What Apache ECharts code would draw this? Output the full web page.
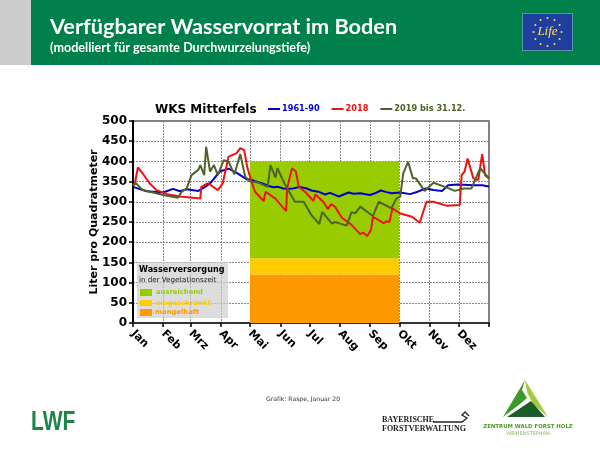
<!DOCTYPE html>
<html>
<head>
<meta charset="utf-8">
<style>html,body{margin:0;padding:0;background:#fff}#report-chart{width:600px;height:450px}</style>
<script src="https://cdn.jsdelivr.net/npm/echarts@6/dist/echarts.min.js"></script>
</head>
<body>
<div id="report-chart"></div>
<script>
var monthNames = ['Jan', 'Feb', 'Mrz', 'Apr', 'Mai', 'Jun', 'Jul', 'Aug', 'Sep', 'Okt', 'Nov', 'Dez'];
var monthStarts = [0, 31, 59, 90, 120, 151, 181, 212, 243, 273, 304, 334, 365];
var yTicks = [0, 50, 100, 150, 200, 250, 300, 350, 400, 450, 500];

var normalDays = [0, 14, 31, 41, 48, 55, 67, 74, 80, 89, 98, 106, 117, 120, 125, 132, 139, 144, 149, 154, 159, 164, 171, 178, 183, 190, 197, 202, 207, 211, 216, 221, 226, 233, 243, 248, 254, 260, 265, 274, 284, 292, 300, 308, 317, 323, 333, 349, 358, 365];
var normalValues = [337, 326, 323, 332, 326, 331, 327, 337, 348, 375, 382, 372, 355, 356, 351, 346, 339, 336, 337, 333, 332, 333, 337, 333, 328, 325, 318, 322, 317, 313, 318, 323, 320, 321, 317, 321, 328, 324, 321, 323, 319, 325, 333, 329, 327, 341, 343, 341, 341, 338];

var days2018 = [0, 2, 5, 10, 17, 24, 35, 48, 69, 70, 77, 87, 92, 98, 106, 110, 114, 117, 121, 125, 134, 136, 146, 157, 158, 163, 167, 170, 178, 185, 187, 195, 200, 203, 207, 214, 224, 233, 236, 240, 244, 246, 253, 257, 260, 263, 266, 274, 286, 294, 297, 301, 308, 322, 335, 337, 340, 343, 349, 354, 358, 361, 365];
var values2018 = [340, 346, 385, 370, 346, 329, 319, 313, 308, 337, 346, 329, 346, 412, 420, 433, 428, 387, 354, 325, 302, 325, 308, 277, 333, 383, 375, 337, 321, 302, 318, 300, 282, 294, 288, 261, 243, 220, 224, 215, 230, 263, 253, 247, 252, 250, 284, 271, 263, 248, 271, 300, 300, 290, 292, 366, 375, 407, 358, 354, 418, 366, 358];

var days2019 = [0, 3, 10, 31, 46, 50, 55, 60, 67, 69, 73, 75, 79, 83, 87, 93, 98, 104, 110, 115, 120, 128, 138, 141, 146, 148, 156, 166, 175, 183, 191, 194, 204, 207, 219, 224, 228, 233, 246, 252, 265, 270, 274, 277, 279, 282, 287, 290, 299, 308, 320, 330, 339, 347, 356, 365];
var values2019 = [340, 346, 329, 317, 310, 325, 333, 366, 379, 391, 366, 436, 375, 391, 366, 403, 399, 368, 418, 362, 351, 348, 337, 391, 360, 383, 342, 300, 300, 267, 245, 275, 246, 250, 241, 274, 272, 288, 265, 300, 284, 308, 313, 370, 372, 399, 358, 358, 327, 347, 337, 327, 333, 333, 383, 358];

var bandLimits = [0, 120, 160, 400];
var bandColors = ['#FF9900', '#FFCC00', '#99CC00'];
var bandStart = 120;
var bandEnd = 273;

function zip(xs, ys) {
    return xs.map(function (x, i) { return [x, ys[i]]; });
}

var bandAreas = bandColors.map(function (color, i) {
    return [
        { coord: [bandStart, bandLimits[i]], itemStyle: { color: color, opacity: 1 } },
        { coord: [bandEnd, bandLimits[i + 1]] }
    ];
});

var gridDash = { color: '#888', type: [2, 1], width: 1 };
var sans = '"DejaVu Sans"';

function label(x, y, text, size, color, weight, extra) {
    var style = {
        x: x, y: y, text: text, fill: color,
        font: (weight || 'normal') + ' ' + size + 'px ' + sans,
        textVerticalAlign: 'middle'
    };
    for (var k in extra || {}) style[k] = extra[k];
    return { type: 'text', z: 20, style: style };
}
function box(x, y, w, h, color, z) {
    return { type: 'rect', z: z || 20, shape: { x: x, y: y, width: w, height: h }, style: { fill: color } };
}
function poly(points, color) {
    return { type: 'polygon', z: 20, shape: { points: points }, style: { fill: color } };
}

var stars = [];
for (var s = 0; s < 12; s++) {
    stars.push({
        type: 'circle', z: 21,
        shape: { cx: 547.5 + 14 * Math.cos(s * Math.PI / 6), cy: 32 + 14 * Math.sin(s * Math.PI / 6), r: 1 },
        style: { fill: '#FFE14D' }
    });
}

var decorations = [
    // header
    box(0, 0, 31, 65, '#CCCCCC'),
    box(31, 0, 569, 65, '#00804A'),
    label(50, 27, 'Verfügbarer Wasservorrat im Boden', 21.7, '#fff', 'bold', { font: 'bold 21.7px Lato' }),
    label(50, 48, '(modelliert für gesamte Durchwurzelungstiefe)', 12.6, '#fff', 'bold', { font: 'bold 12.6px Lato' }),
    box(522, 13, 51, 38, '#5C8FA8'),
    box(523, 14, 49, 36, '#1F3E9E'),
    label(547.5, 32, 'Life', 13, '#FFE14D', 'italic', { font: 'italic 13px "Liberation Serif"', textAlign: 'center' }),
    // chart title
    label(155, 110, 'WKS Mitterfels', 12, '#000', 'bold'),
    // water supply key
    box(137, 262, 91, 56, 'rgba(205,205,205,0.68)'),
    label(139, 270, 'Wasserversorgung', 8.1, '#000', 'bold'),
    label(139, 280, 'in der Vegetationszeit', 7.1, '#222'),
    box(140, 289, 12, 7, '#99CC00'),
    box(140, 300, 12, 6, '#FFCC00'),
    box(140, 309, 12, 7, '#FF9900'),
    label(156, 292.5, 'ausreichend', 6.8, '#99CC00', 'bold'),
    label(156, 303, 'eingeschränkt', 6.8, '#FFCC00', 'bold'),
    label(155, 312.5, 'mangelhaft', 6.8, '#FF9900', 'bold'),
    // footer
    label(266, 399, 'Grafik: Raspe, Januar 20', 6.1, '#333'),
    {
        type: 'text', z: 20,
        originX: 31, originY: 422, scaleY: 1.33,
        style: { x: 31, y: 422, text: 'LWF', fill: '#1E8449', font: 'bold 21px "Liberation Sans"', textVerticalAlign: 'middle' }
    },
    label(382, 420, 'BAYERISCHE', 8, '#222', 'bold', { font: 'bold 8px "Liberation Serif"' }),
    label(382, 429, 'FORSTVERWALTUNG', 8, '#222', 'bold', { font: 'bold 8px "Liberation Serif"' }),
    {
        type: 'polyline', z: 20,
        shape: { points: [[433, 422], [462, 422], [467, 418], [462, 415], [465, 412], [469, 416]] },
        style: { stroke: '#222', fill: null, lineWidth: 1.3 }
    },
    poly([[525, 380], [503, 417], [520, 404], [527, 398], [522, 390]], '#3D9A2A'),
    poly([[525, 380], [548, 417], [533, 404], [527, 392]], '#A4C93A'),
    poly([[507, 417], [525, 405], [531, 401], [545, 417]], '#1A5C2A'),
    label(528, 427, 'ZENTRUM WALD FORST HOLZ', 5.4, '#4E9A2A', 'bold', { textAlign: 'center' }),
    label(528, 434, 'WEIHENSTEPHAN', 5, '#8DB56A', 'normal', { textAlign: 'center' })
].concat(stars);

var chartDom = document.getElementById('report-chart');
var myChart = echarts.init(chartDom);
var option;

option = {
    animation: false,
    textStyle: { fontFamily: sans },
    grid: {
        left: 133,
        top: 121,
        width: 356,
        height: 202,
        show: true,
        borderColor: '#555',
        borderWidth: 1.5,
        backgroundColor: 'transparent'
    },
    legend: {
        left: 268,
        top: 105,
        itemWidth: 12,
        itemHeight: 2,
        itemGap: 12,
        padding: 0,
        data: [
            { name: '1961-90', icon: 'rect', textStyle: { color: '#0000CC' } },
            { name: '2018', icon: 'rect', textStyle: { color: '#EE1111' } },
            { name: '2019 bis 31.12.', icon: 'rect', textStyle: { color: '#4F6228' } }
        ],
        textStyle: { fontWeight: 'bold', fontSize: 8.2, fontFamily: sans, padding: [0, 0, 0, -3] }
    },
    xAxis: {
        type: 'value',
        min: 0,
        max: 365,
        axisLine: { lineStyle: { color: '#333', width: 2 } },
        axisTick: { length: 4, customValues: monthStarts, lineStyle: { color: '#000', width: 1.5 } },
        axisLabel: {
            customValues: monthStarts.slice(0, 12),
            rotate: -45,
            fontSize: 11,
            fontWeight: 'bold',
            color: '#000',
            margin: 9,
            formatter: function (v) { return monthNames[monthStarts.indexOf(v)]; }
        },
        splitLine: { show: true, lineStyle: gridDash }
    },
    yAxis: {
        type: 'value',
        min: 0,
        max: 500,
        interval: 50,
        name: 'Liter pro Quadratmeter',
        nameLocation: 'middle',
        nameGap: 33,
        nameMoveOverlap: false,
        nameTextStyle: { fontWeight: 'bold', fontSize: 11, color: '#000' },
        axisLine: { show: true, onZero: false, lineStyle: { color: '#000', width: 2 } },
        axisTick: { show: true, length: 4, lineStyle: { color: '#000', width: 1.5 } },
        axisLabel: {
            fontSize: 12,
            fontWeight: 'bold',
            color: '#000',
            margin: 6,
            customValues: yTicks
        },
        splitLine: { show: true, lineStyle: gridDash }
    },
    series: [{
        type: 'line',
        name: 'bands',
        z: 1,
        silent: true,
        symbol: 'none',
        data: [],
        markArea: { silent: true, data: bandAreas }
    }, {
        name: '1961-90',
        type: 'line',
        z: 3,
        symbol: 'none',
        color: '#0000CC',
        lineStyle: { width: 2 },
        data: zip(normalDays, normalValues)
    }, {
        name: '2018',
        type: 'line',
        z: 4,
        symbol: 'none',
        color: '#EE1111',
        lineStyle: { width: 2 },
        data: zip(days2018, values2018)
    }, {
        name: '2019 bis 31.12.',
        type: 'line',
        z: 5,
        symbol: 'none',
        color: '#4F6228',
        lineStyle: { width: 2 },
        data: zip(days2019, values2019)
    }],
    graphic: decorations
};
option && myChart.setOption(option);
</script>
</body>
</html>
